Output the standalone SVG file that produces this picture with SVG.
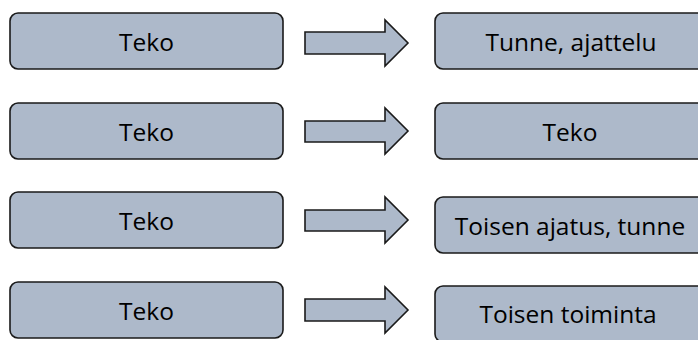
<svg xmlns="http://www.w3.org/2000/svg" width="698" height="340" viewBox="0 0 698 340">
<style>
.box{fill:#adb9ca;stroke:#1a1a1a;stroke-width:1.6}
.arr{fill:#adb9ca;stroke:#1a1a1a;stroke-width:1.6;stroke-linejoin:miter}
.t{font-family:"Open Sans","Noto Sans",sans-serif;font-size:24.5px;fill:#000;text-anchor:middle;dominant-baseline:central}
</style>
<rect width="698" height="340" fill="#fff"/>
<g id="left1"><rect class="box" x="10" y="13" width="273" height="56" rx="8"/><text class="t" x="146.5" y="41">Teko</text></g>
<g id="left2"><rect class="box" x="10" y="103" width="273" height="56" rx="8"/><text class="t" x="146.5" y="131">Teko</text></g>
<g id="left3"><rect class="box" x="10" y="192" width="273" height="56" rx="8"/><text class="t" x="146.5" y="220">Teko</text></g>
<g id="left4"><rect class="box" x="10" y="282" width="273" height="56" rx="8"/><text class="t" x="146.5" y="310">Teko</text></g>
<g id="right1"><rect class="box" x="435" y="13" width="273" height="56" rx="8"/><text class="t" x="571" y="41">Tunne, ajattelu</text></g>
<g id="right2"><rect class="box" x="435" y="103" width="273" height="56" rx="8"/><text class="t" x="570" y="131">Teko</text></g>
<g id="right3"><rect class="box" x="435" y="197" width="273" height="56" rx="8"/><text class="t" x="570" y="225">Toisen ajatus, tunne</text></g>
<g id="right4"><rect class="box" x="435" y="286" width="273" height="56" rx="8"/><text class="t" x="568" y="313">Toisen toiminta</text></g>
<g id="connectors">
<path class="arr" d="M305,32 H385 V20 L408,43 L385,66 V54 H305 Z"/>
<path class="arr" d="M305,121 H385 V108 L408,131 L385,154 V142 H305 Z"/>
<path class="arr" d="M305,210 H385 V197 L408,220 L385,243 V231 H305 Z"/>
<path class="arr" d="M305,299 H385 V287 L408,310 L385,333 V321 H305 Z"/>
</g>
</svg>
